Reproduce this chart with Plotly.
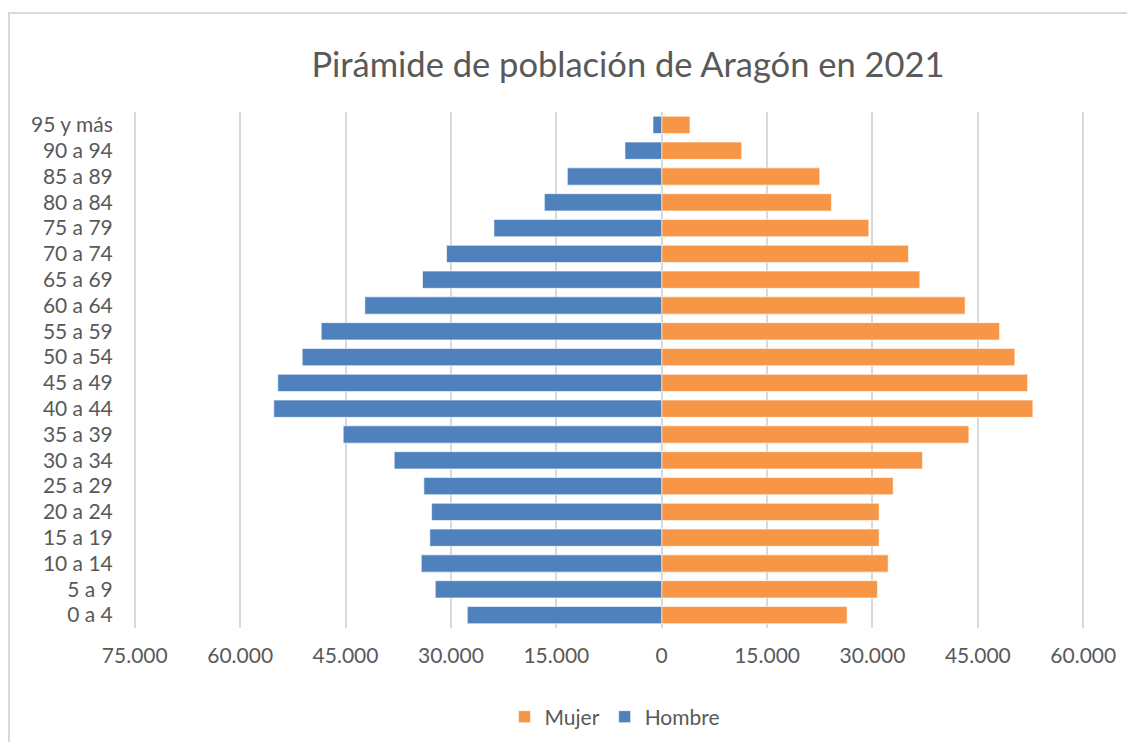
import plotly.graph_objects as go

age_groups = ["0 a 4", "5 a 9", "10 a 14", "15 a 19", "20 a 24", "25 a 29", "30 a 34",
              "35 a 39", "40 a 44", "45 a 49", "50 a 54", "55 a 59", "60 a 64", "65 a 69",
              "70 a 74", "75 a 79", "80 a 84", "85 a 89", "90 a 94", "95 y más"]

hombre = [27670, 32230, 34220, 33000, 32750, 33850, 38070, 45330, 55210, 54640,
          51170, 48460, 42250, 34040, 30620, 23880, 16700, 13430, 5230, 1240]

mujer = [26390, 30710, 32230, 30950, 30950, 32950, 37120, 43720, 52830, 52080,
         50270, 48090, 43190, 36740, 35130, 29480, 24170, 22500, 11390, 4030]

tick_values = [-75000, -60000, -45000, -30000, -15000, 0, 15000, 30000, 45000, 60000]
tick_labels = ["75.000", "60.000", "45.000", "30.000", "15.000", "0",
               "15.000", "30.000", "45.000", "60.000"]

title_text = "Pirámide de población de Aragón en 2021"

FONT = "Lato, 'Open Sans', sans-serif"
TXT = "#595959"
GRID = "#D9D9D9"

W, H = 1127, 734
L, R, T, B = 125, 50, 104, 114
PW, PH = W - L - R, H - T - B

fig = go.Figure()
fig.add_trace(go.Bar(
    y=age_groups, x=mujer, name="Mujer", orientation="h",
    marker=dict(color="#F79646", line=dict(color="rgba(255,255,255,0.6)", width=1)),
))
fig.add_trace(go.Bar(
    y=age_groups, x=[-v for v in hombre], name="Hombre", orientation="h",
    marker=dict(color="#4F81BD", line=dict(color="rgba(255,255,255,0.6)", width=1)),
))

fig.update_layout(
    width=W, height=H,
    margin=dict(l=L, r=R, t=T, b=B, autoexpand=False),
    paper_bgcolor="white", plot_bgcolor="white",
    barmode="overlay", bargap=0.33,
    font=dict(family=FONT, color=TXT, size=21),
    title=dict(text=title_text, x=(620 - L) / PW, xref="paper", xanchor="center",
               y=1 - 57 / H, yanchor="middle",
               font=dict(family=FONT, size=34.5, color=TXT)),
    legend=dict(orientation="h", x=(607 - L) / PW, xanchor="center",
                y=(T + PH - 709) / PH, yanchor="middle",
                font=dict(size=21, color=TXT), traceorder="normal",
                itemwidth=30),
    xaxis=dict(range=[-75250, 60250], tickvals=tick_values, ticktext=tick_labels,
               showgrid=True, gridcolor=GRID, gridwidth=2,
               zeroline=True, zerolinecolor=GRID, zerolinewidth=2,
               ticks="outside", ticklen=9, tickcolor="rgba(0,0,0,0)",
               tickfont=dict(size=21),
               showline=False, fixedrange=True),
    yaxis=dict(showgrid=False, zeroline=False, showline=False,
               ticks="outside", ticklen=15, tickcolor="rgba(0,0,0,0)",
               tickfont=dict(size=21),
               categoryorder="array", categoryarray=age_groups),
    shapes=[dict(type="rect", xref="paper", yref="paper",
                 x0=(1 - L) / PW, x1=(1150 - L) / PW,
                 y0=(T + PH - 760) / PH, y1=(T + PH - 5) / PH,
                 line=dict(color="#D9D9D9", width=2), fillcolor="rgba(0,0,0,0)",
                 layer="below")],
)

fig.write_html("out.html")
